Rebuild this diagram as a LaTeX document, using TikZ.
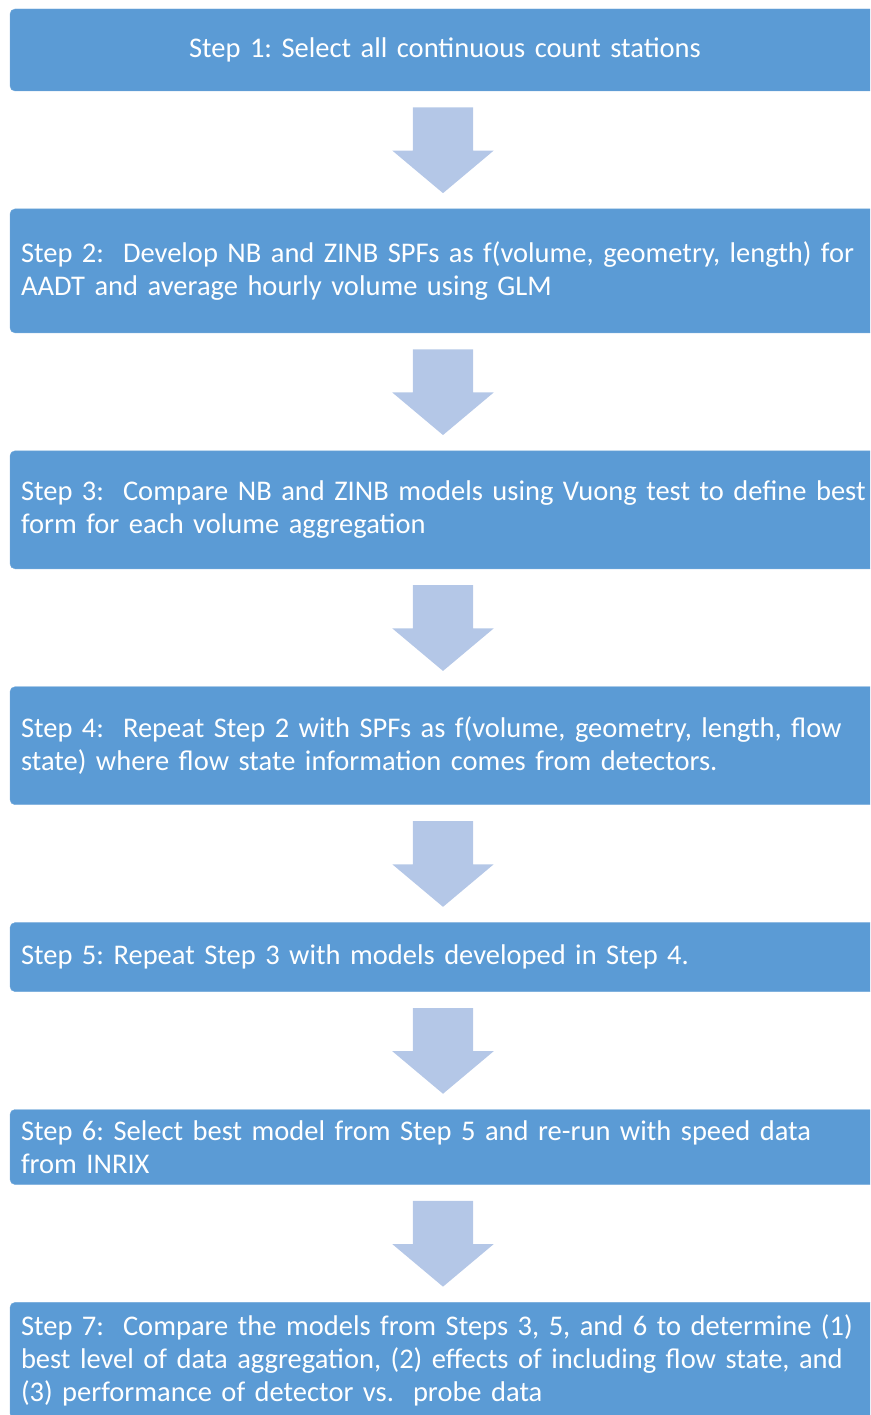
\documentclass[tikz,border=0pt]{standalone}
\usepackage{fontspec}
\setmainfont{Carlito}
\usetikzlibrary{positioning,shapes.arrows,calc}

\definecolor{stepblue}{RGB}{91,155,213}
\definecolor{arrowblue}{RGB}{180,199,231}

\begin{document}
\frenchspacing
\begin{tikzpicture}[
    stepbox/.style={rectangle, rounded corners=5pt, fill=stepblue, draw=stepblue!85!white,
        text=white, minimum width=870pt, text width=848pt, inner xsep=11pt,
        align=left, font=\fontsize{28.5}{33}\selectfont},
    downarrow/.style={single arrow, fill=arrowblue, draw=none, shape border rotate=270,
        minimum height=85pt, minimum width=101pt, single arrow head extend=20.5pt,
        single arrow tip angle=100, inner sep=30pt, anchor=tail}
]

    \useasboundingbox (0,0) rectangle (870pt,-1415pt);
    \clip (0,0) rectangle (870pt,-1415pt);

    \node[stepbox, minimum height=82pt, align=center] (step1) at (445pt,-50pt)
        {Step 1: Select all continuous count stations};
    \node[stepbox, minimum height=124pt, below=117.5pt of step1] (step2)
        {Step 2:\ \ Develop NB and ZINB SPFs as f(volume, geometry, length) for\\
         AADT and average hourly volume using GLM};
    \node[stepbox, minimum height=118pt, below=117.5pt of step2] (step3)
        {Step 3:\ \ Compare NB and ZINB models using Vuong test to define best\\
         form for each volume aggregation};
    \node[stepbox, minimum height=118pt, below=117.5pt of step3] (step4)
        {Step 4:\ \ Repeat Step 2 with SPFs as f(volume, geometry, length, flow\\
         state) where flow state information comes from detectors.};
    \node[stepbox, minimum height=69pt, below=117.5pt of step4] (step5)
        {Step 5: Repeat Step 3 with models developed in Step 4.};
    \node[stepbox, minimum height=75pt, below=117.5pt of step5] (step6)
        {Step 6: Select best model from Step 5 and re-run with speed data\\
         from INRIX};
    \node[stepbox, minimum height=116pt, below=117.5pt of step6] (step7)
        {Step 7:\ \ Compare the models from Steps 3, 5, and 6 to determine (1)\\
         best level of data aggregation, (2) effects of including flow state, and\\
         (3) performance of detector vs.\ \ probe data};

    % block arrows between the steps
    \foreach \a in {1,...,6}
        \node[downarrow] (arr\a) at ($(step\a.south)+(-2pt,-16pt)$) {};

\end{tikzpicture}
\end{document}
